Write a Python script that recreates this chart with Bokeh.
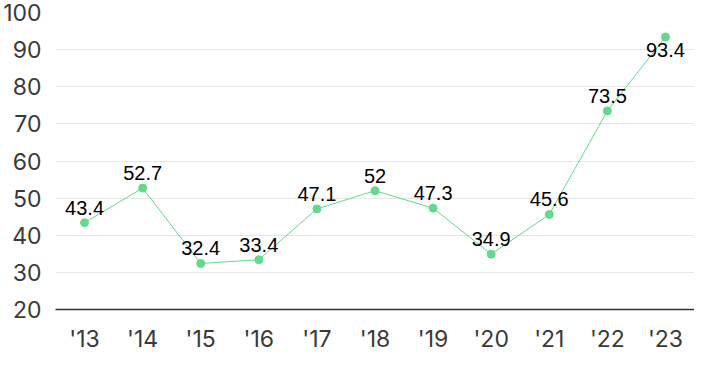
from bokeh.plotting import figure
from bokeh.models import Range1d, FixedTicker, ColumnDataSource, LabelSet
from bokeh.core.properties import value
from bokeh.embed import file_html
from bokeh.resources import INLINE

years = ["'13", "'14", "'15", "'16", "'17", "'18", "'19", "'20", "'21", "'22", "'23"]
values = [43.4, 52.7, 32.4, 33.4, 47.1, 52.0, 47.3, 34.9, 45.6, 73.5, 93.4]
labels = ["43.4", "52.7", "32.4", "33.4", "47.1", "52", "47.3", "34.9", "45.6", "73.5", "93.4"]
y_ticks = [20, 30, 40, 50, 60, 70, 80, 90, 100]

GREEN = "#62d98c"

p = figure(x_range=years, y_range=Range1d(20, 100), width=694, height=355,
           output_backend="svg", toolbar_location=None,
           min_border_left=46, min_border_right=0, min_border_top=12, min_border_bottom=32)
p.x_range.range_padding = 0
p.outline_line_color = None
p.background_fill_color = "white"

p.xgrid.grid_line_color = None
p.ygrid.grid_line_color = "#e6e6e6"
p.ygrid.grid_line_width = 1

p.yaxis.ticker = FixedTicker(ticks=y_ticks)
p.yaxis.axis_line_color = None
p.yaxis.major_tick_line_color = None
p.yaxis.minor_tick_line_color = None
p.yaxis.major_label_text_font = "Inter"
p.yaxis.major_label_text_font_size = "23px"
p.yaxis.major_label_text_color = "#3a3a3a"
p.yaxis.major_label_standoff = 8

p.xaxis.axis_line_color = "#333333"
p.xaxis.axis_line_width = 1.5
p.xaxis.major_tick_line_color = None
p.xaxis.minor_tick_line_color = None
p.xaxis.major_label_text_font = "Inter"
p.xaxis.major_label_text_font_size = "23px"
p.xaxis.major_label_text_color = "#3a3a3a"
p.xaxis.major_label_standoff = 9

src = ColumnDataSource(dict(x=years, y=values, t=labels))
p.line("x", "y", source=src, line_color=GREEN, line_width=1)
p.scatter("x", "y", source=src, size=8, fill_color=GREEN, line_color=GREEN)

above = ColumnDataSource(dict(x=years[:-1], y=values[:-1], t=labels[:-1]))
below = ColumnDataSource(dict(x=years[-1:], y=values[-1:], t=labels[-1:]))
p.add_layout(LabelSet(x="x", y="y", text="t", source=above, text_align="center",
                      text_baseline="alphabetic", y_offset=8, text_font=value("Liberation Sans"),
                      text_font_size=value("20px"), text_color=value("black")))
p.add_layout(LabelSet(x="x", y="y", text="t", source=below, text_align="center",
                      text_baseline="top", y_offset=-6, text_font=value("Liberation Sans"),
                      text_font_size=value("20px"), text_color=value("black")))

open("out.html", "w").write(file_html(p, INLINE))
